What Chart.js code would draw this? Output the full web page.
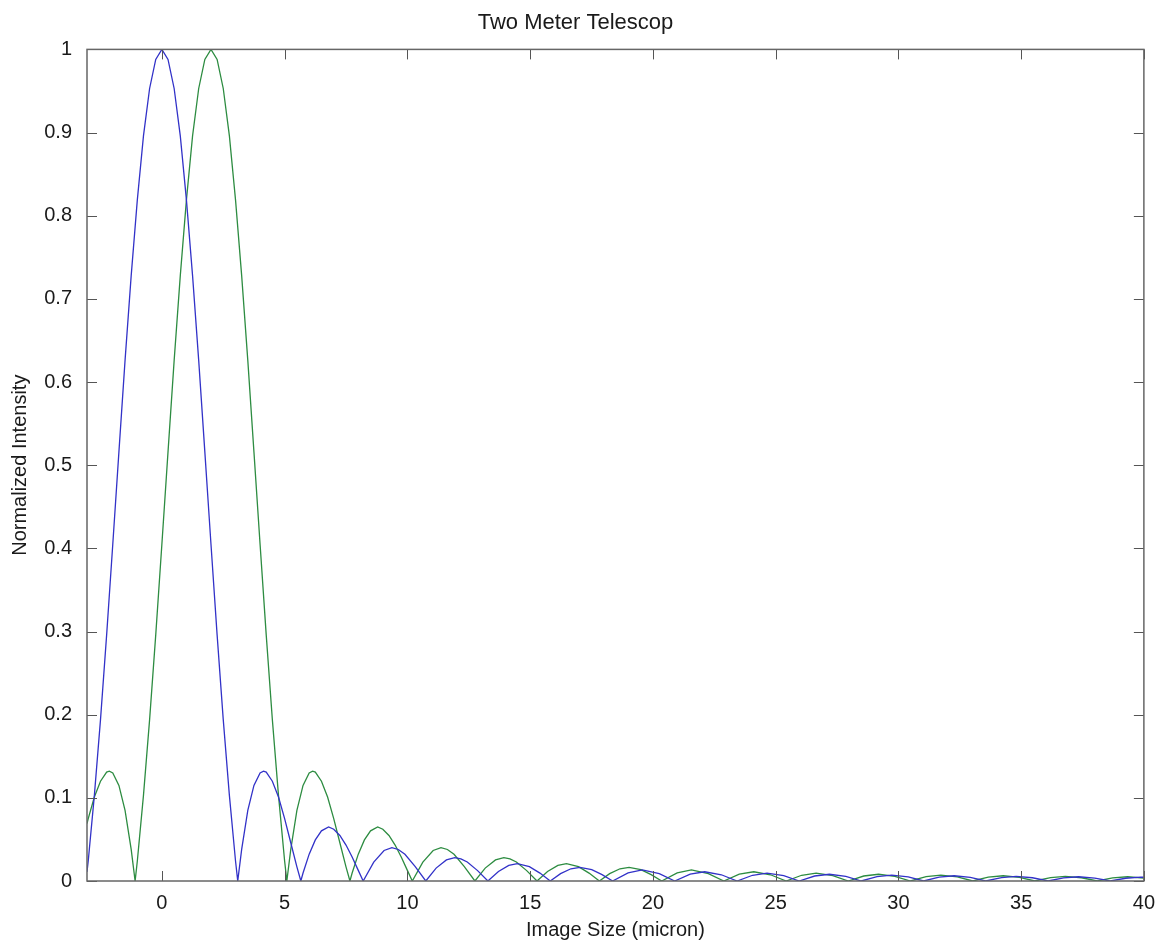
<!DOCTYPE html>
<html>
<head>
<meta charset="utf-8">
<script src="https://cdn.jsdelivr.net/npm/chart.js@4"></script>
<style>
  html, body { margin: 0; padding: 0; background: #fff; }
  #wrap { width: 1157px; height: 949px; }
</style>
</head>
<body>
<div id="wrap"><canvas id="chart"></canvas></div>
<script>
// Blue curve (centred on 0)
const blueX = [-3.05, -3, -2.75, -2.5, -2.25, -2, -1.75, -1.5, -1.25, -1, -0.75, -0.5, -0.25, 0, 0.25, 0.5, 0.75, 1, 1.25, 1.5, 1.75, 2, 2.25, 2.5, 2.75, 3, 3.09,
    3.25, 3.5, 3.75, 4, 4.14, 4.25, 4.5, 4.75, 5, 5.25, 5.5, 5.66,
    5.75, 6, 6.25, 6.5, 6.79, 7, 7.25, 7.5, 7.75, 8, 8.2,
    8.63, 9.05, 9.37, 9.63, 9.9, 10.32, 10.75,
    11.17, 11.59, 11.93, 12.18, 12.44, 12.86, 13.28,
    13.71, 14.13, 14.48, 14.97, 15.4, 15.82,
    16.24, 16.66, 17.03, 17.51, 17.93, 18.36,
    18.99, 19.57, 20.26, 20.89, 21.52, 22.11, 22.79, 23.43, 24.06, 24.65, 25.33, 25.96,
    26.59, 27.19, 27.86, 28.49, 29.13, 29.73, 30.4, 31.03, 31.66, 32.27, 32.93, 33.56,
    34.2, 34.8, 35.46, 36.1, 36.73, 37.34, 38, 38.63, 39.26, 39.87, 40];
const blueY = [0.011, 0.024, 0.103, 0.194, 0.296, 0.405, 0.516, 0.626, 0.728, 0.819, 0.896, 0.953, 0.988, 1, 0.988, 0.953, 0.896, 0.819, 0.728, 0.626, 0.516, 0.405, 0.296, 0.194, 0.103, 0.024, 0,
    0.038, 0.085, 0.115, 0.130, 0.132, 0.131, 0.120, 0.101, 0.075, 0.046, 0.017, 0,
    0.0096, 0.0323, 0.0494, 0.0603, 0.065, 0.0623, 0.0547, 0.0432, 0.0288, 0.0128, 0,
    0.0227, 0.0367, 0.0402, 0.0379, 0.0321, 0.0174, 0,
    0.0155, 0.0253, 0.028, 0.0266, 0.0228, 0.0125, 0,
    0.0114, 0.0188, 0.0209, 0.0172, 0.0095, 0,
    0.0088, 0.0147, 0.0164, 0.0136, 0.0076, 0,
    0.0098, 0.0133, 0.0089, 0, 0.0082, 0.0111, 0.0075, 0, 0.0069, 0.0094, 0.0064, 0,
    0.006, 0.0081, 0.0056, 0, 0.0052, 0.0071, 0.0049, 0, 0.0046, 0.0063, 0.0043, 0,
    0.0041, 0.0056, 0.0039, 0, 0.0037, 0.0051, 0.0035, 0, 0.0033, 0.0046, 0.0045];

// Green curve (centred on 2)
const greenX = [-3.05, -3, -2.75, -2.5, -2.25, -2.14, -2, -1.75, -1.5, -1.25, -1.09,
    -1, -0.75, -0.5, -0.25, 0, 0.25, 0.5, 0.75, 1, 1.25, 1.5, 1.75, 2, 2.25, 2.5, 2.75, 3, 3.25, 3.5, 3.75, 4, 4.25, 4.5, 4.75, 5, 5.09,
    5.25, 5.5, 5.75, 6, 6.14, 6.25, 6.5, 6.75, 7, 7.25, 7.5, 7.66,
    7.75, 8, 8.25, 8.5, 8.79, 9, 9.25, 9.5, 9.75, 10, 10.2,
    10.63, 11.05, 11.37, 11.63, 11.9, 12.32, 12.75,
    13.17, 13.59, 13.93, 14.18, 14.44, 14.86, 15.28,
    15.71, 16.13, 16.48, 16.97, 17.4, 17.82,
    18.24, 18.66, 19.03, 19.51, 19.93, 20.36,
    20.99, 21.57, 22.26, 22.89, 23.52, 24.11, 24.79, 25.43, 26.06, 26.65, 27.33, 27.96,
    28.59, 29.19, 29.86, 30.49, 31.13, 31.73, 32.4, 33.03, 33.66, 34.27, 34.93, 35.56,
    36.2, 36.8, 37.46, 38.1, 38.73, 39.34, 40];
const greenY = [0.069, 0.075, 0.101, 0.120, 0.131, 0.132, 0.130, 0.115, 0.085, 0.038, 0,
    0.024, 0.103, 0.194, 0.296, 0.405, 0.516, 0.626, 0.728, 0.819, 0.896, 0.953, 0.988, 1, 0.988, 0.953, 0.896, 0.819, 0.728, 0.626, 0.516, 0.405, 0.296, 0.194, 0.103, 0.024, 0,
    0.038, 0.085, 0.115, 0.130, 0.132, 0.131, 0.120, 0.101, 0.075, 0.046, 0.017, 0,
    0.0096, 0.0323, 0.0494, 0.0603, 0.065, 0.0623, 0.0547, 0.0432, 0.0288, 0.0128, 0,
    0.0227, 0.0367, 0.0402, 0.0379, 0.0321, 0.0174, 0,
    0.0155, 0.0253, 0.028, 0.0266, 0.0228, 0.0125, 0,
    0.0114, 0.0188, 0.0209, 0.0172, 0.0095, 0,
    0.0088, 0.0147, 0.0164, 0.0136, 0.0076, 0,
    0.0098, 0.0133, 0.0089, 0, 0.0082, 0.0111, 0.0075, 0, 0.0069, 0.0094, 0.0064, 0,
    0.006, 0.0081, 0.0056, 0, 0.0052, 0.0071, 0.0049, 0, 0.0046, 0.0063, 0.0043, 0,
    0.0041, 0.0056, 0.0039, 0, 0.0037, 0.0051, 0.0035];

// Axis ticks
const xTicks = [0, 5, 10, 15, 20, 25, 30, 35, 40];
const yTicks = [0, 0.1, 0.2, 0.3, 0.4, 0.5, 0.6, 0.7, 0.8, 0.9, 1];
const yTickLabels = ['0', '0.1', '0.2', '0.3', '0.4', '0.5', '0.6', '0.7', '0.8', '0.9', '1'];

const FONT = "'Liberation Sans', Arial, sans-serif";

function toPoints(xs, ys) {
    return xs.map((x, i) => ({ x: x, y: ys[i] }));
}

// Matlab-style box with inward ticks on all four sides
const boxTicks = {
    id: 'boxTicks',
    afterDatasetsDraw(chart) {
        const { ctx, chartArea: a, scales } = chart;
        const len = 10;
        ctx.save();
        ctx.strokeStyle = '#555';
        ctx.lineWidth = 1;
        ctx.beginPath();
        xTicks.forEach(v => {
            const px = Math.round(scales.x.getPixelForValue(v)) + 0.5;
            ctx.moveTo(px, a.bottom); ctx.lineTo(px, a.bottom - len);
            ctx.moveTo(px, a.top); ctx.lineTo(px, a.top + len);
        });
        yTicks.forEach(v => {
            const py = Math.round(scales.y.getPixelForValue(v)) + 0.5;
            ctx.moveTo(a.left, py); ctx.lineTo(a.left + len, py);
            ctx.moveTo(a.right, py); ctx.lineTo(a.right - len, py);
        });
        ctx.stroke();
        ctx.lineWidth = 1.5;
        ctx.strokeStyle = '#666';
        ctx.strokeRect(a.left, a.top, a.right - a.left, a.bottom - a.top);
        ctx.restore();
    }
};

new Chart(document.getElementById('chart'), {
    type: 'line',
    data: {
        datasets: [{
            label: 'blue',
            data: toPoints(blueX, blueY),
            borderColor: 'rgb(50, 50, 200)',
            borderWidth: 1.3,
            pointRadius: 0,
            tension: 0,
            fill: false
        }, {
            label: 'green',
            data: toPoints(greenX, greenY),
            borderColor: 'rgb(45, 140, 65)',
            borderWidth: 1.3,
            pointRadius: 0,
            tension: 0,
            fill: false
        }]
    },
    options: {
        responsive: true,
        maintainAspectRatio: false,
        animation: false,
        layout: { padding: { left: 0, right: 6, top: 0, bottom: 0 } },
        plugins: {
            legend: { display: false },
            tooltip: { enabled: false },
            title: {
                display: true,
                text: 'Two Meter Telescop',
                color: '#1a1a1a',
                font: { family: FONT, size: 22, weight: 'normal' },
                padding: { top: 10, bottom: 13 }
            }
        },
        scales: {
            x: {
                type: 'linear',
                min: -3.05,
                max: 40,
                afterBuildTicks: scale => { scale.ticks = xTicks.map(v => ({ value: v })); },
                afterFit: scale => { scale.height = 68; },
                grid: { display: false },
                border: { display: false },
                ticks: {
                    autoSkip: false,
                    maxRotation: 0,
                    padding: 2,
                    color: '#1a1a1a',
                    font: { family: FONT, size: 20 },
                    callback: v => String(v)
                },
                title: {
                    display: true,
                    text: 'Image Size (micron)',
                    color: '#1a1a1a',
                    font: { family: FONT, size: 20 },
                    padding: { top: 0, bottom: 7 }
                }
            },
            y: {
                type: 'linear',
                min: 0,
                max: 1,
                afterBuildTicks: scale => { scale.ticks = yTicks.map(v => ({ value: v })); },
                afterFit: scale => { scale.width = 87; },
                grid: { display: false },
                border: { display: false },
                ticks: {
                    autoSkip: false,
                    padding: 7,
                    color: '#1a1a1a',
                    font: { family: FONT, size: 20 },
                    callback: (v, i) => yTickLabels[i]
                },
                title: {
                    display: true,
                    text: 'Normalized Intensity',
                    color: '#1a1a1a',
                    font: { family: FONT, size: 20 },
                    padding: { top: 8, bottom: 0 }
                }
            }
        }
    },
    plugins: [boxTicks]
});
</script>
</body>
</html>
